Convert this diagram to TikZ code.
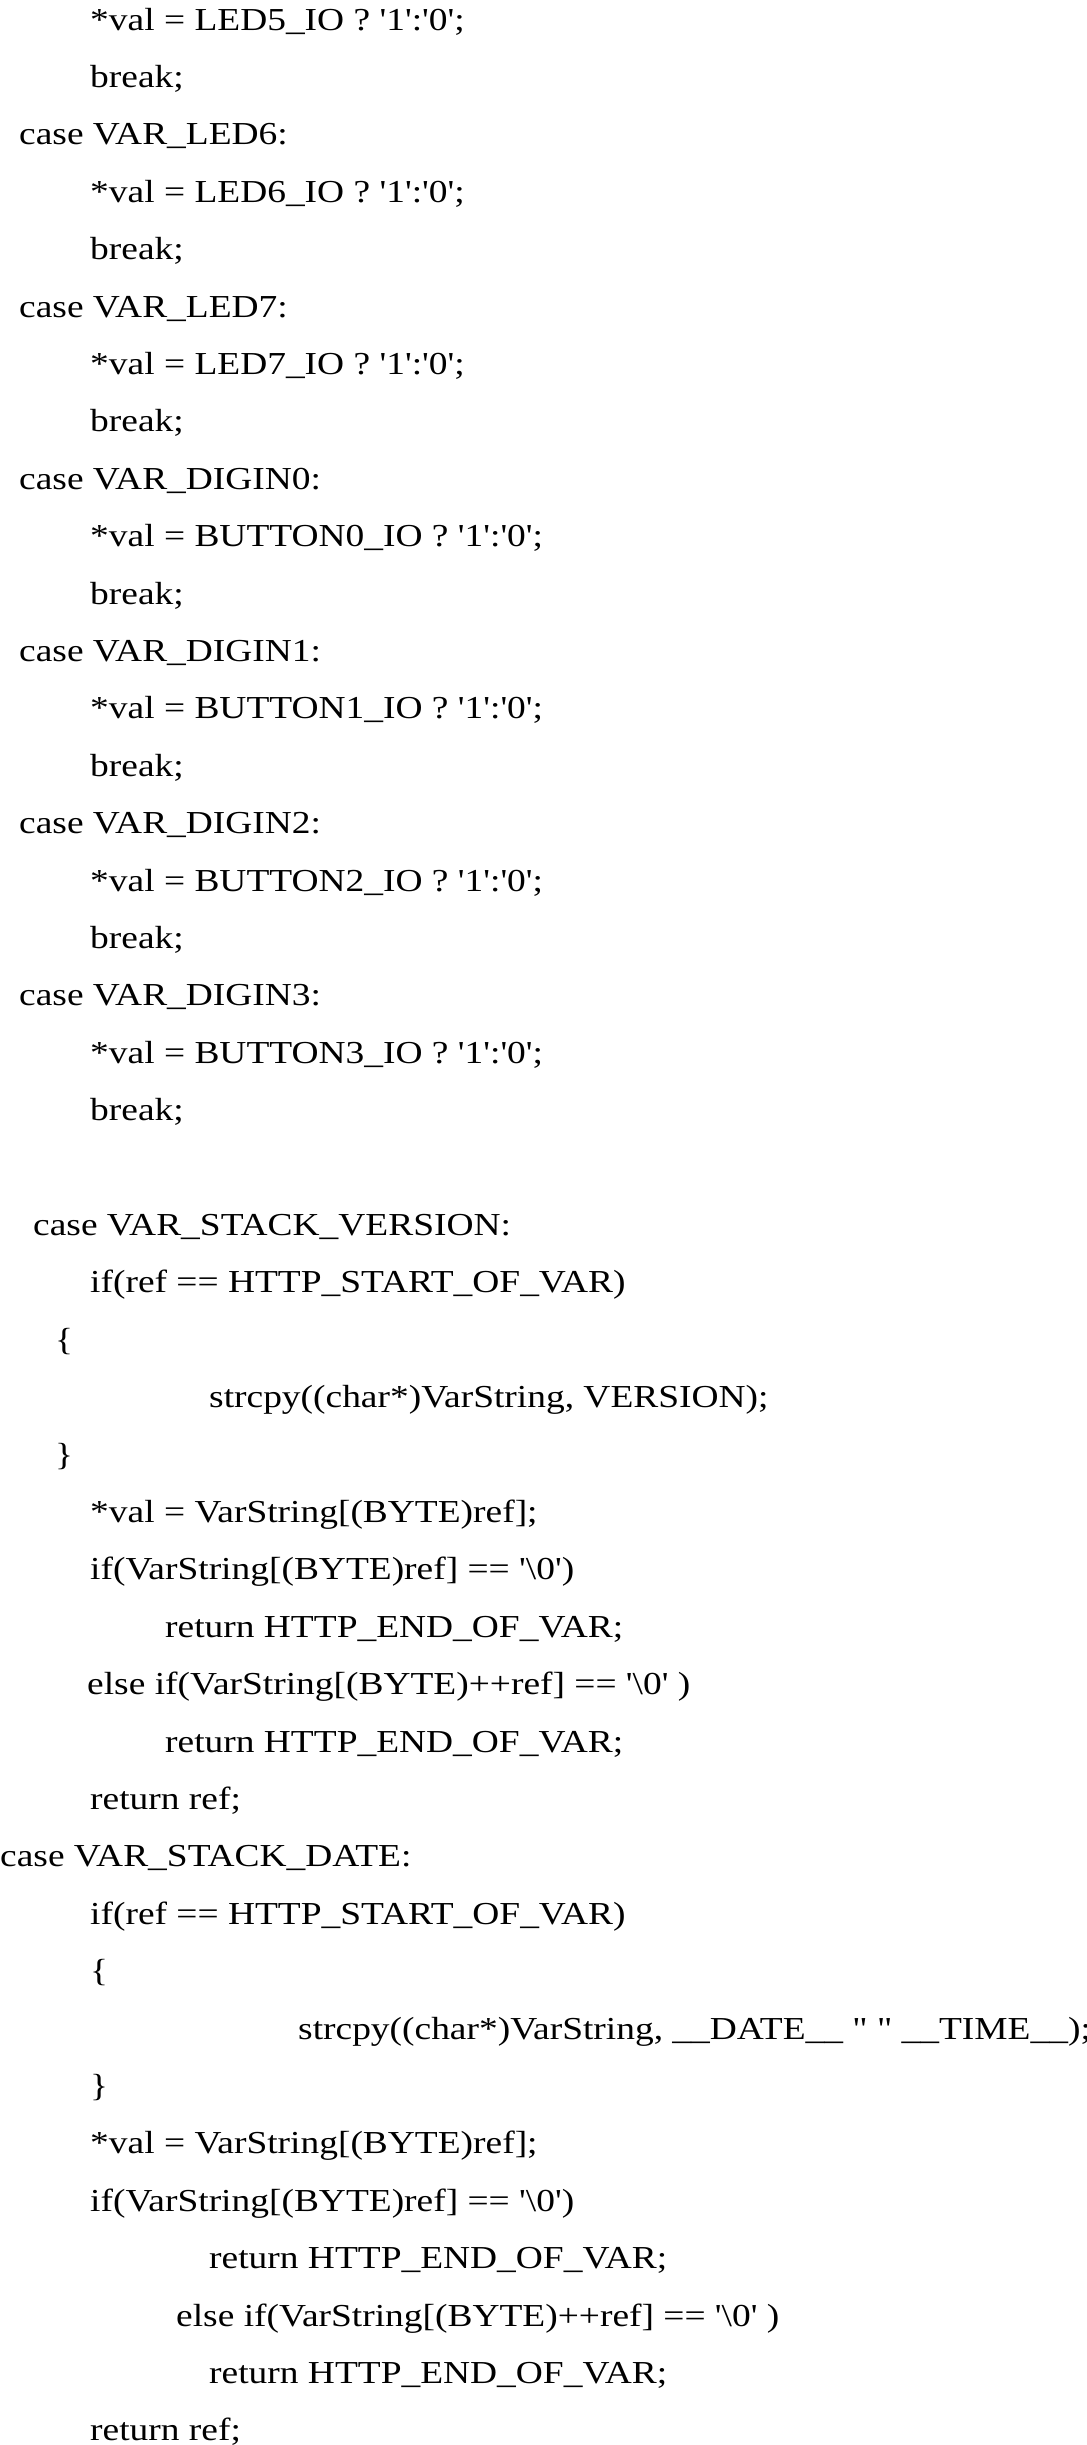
\documentclass[tikz,border=0pt]{standalone}
\usepackage{fontspec}
\setmainfont{Liberation Serif}[Ligatures=TeXOff,FakeStretch=1.17]
\newcommand{\us}{\_}
\newcommand{\bsl}{\textbackslash}
\tikzset{codeline/.style={anchor=base west, inner sep=0pt, font=\fontsize{32}{36}\selectfont}}
\begin{document}
\begin{tikzpicture}[x=1pt,y=1pt]
\useasboundingbox (0,0) rectangle (1087,-2445);
% slot k has its base at -(30+(k-1)*57.4)
\def\sl#1{-30-(#1-1)*57.4}

\node[codeline] (l1) at (90,{\sl{1}}) {*val = LED5\us IO ? '1':'0';};
\node[codeline] (l2) at (90,{\sl{2}}) {break;};
\node[codeline] (l3) at (19,{\sl{3}}) {case VAR\us LED6:};
\node[codeline] (l4) at (90,{\sl{4}}) {*val = LED6\us IO ? '1':'0';};
\node[codeline] (l5) at (90,{\sl{5}}) {break;};
\node[codeline] (l6) at (19,{\sl{6}}) {case VAR\us LED7:};
\node[codeline] (l7) at (90,{\sl{7}}) {*val = LED7\us IO ? '1':'0';};
\node[codeline] (l8) at (90,{\sl{8}}) {break;};
\node[codeline] (l9) at (19,{\sl{9}}) {case VAR\us DIGIN0:};
\node[codeline] (l10) at (90,{\sl{10}}) {*val = BUTTON0\us IO ? '1':'0';};
\node[codeline] (l11) at (90,{\sl{11}}) {break;};
\node[codeline] (l12) at (19,{\sl{12}}) {case VAR\us DIGIN1:};
\node[codeline] (l13) at (90,{\sl{13}}) {*val = BUTTON1\us IO ? '1':'0';};
\node[codeline] (l14) at (90,{\sl{14}}) {break;};
\node[codeline] (l15) at (19,{\sl{15}}) {case VAR\us DIGIN2:};
\node[codeline] (l16) at (90,{\sl{16}}) {*val = BUTTON2\us IO ? '1':'0';};
\node[codeline] (l17) at (90,{\sl{17}}) {break;};
\node[codeline] (l18) at (19,{\sl{18}}) {case VAR\us DIGIN3:};
\node[codeline] (l19) at (90,{\sl{19}}) {*val = BUTTON3\us IO ? '1':'0';};
\node[codeline] (l20) at (90,{\sl{20}}) {break;};

% version
\node[codeline] (v1) at (33,{\sl{22}}) {case VAR\us STACK\us VERSION:};
\node[codeline] (v2) at (90,{\sl{23}}) {if(ref == HTTP\us START\us OF\us VAR)};
\node[codeline] (v3) at (55,{\sl{24}}) {\{};
\node[codeline] (v4) at (209,{\sl{25}}) {strcpy((char*)VarString, VERSION);};
\node[codeline] (v5) at (55,{\sl{26}}) {\}};
\node[codeline] (v6) at (90,{\sl{27}}) {*val = VarString[(BYTE)ref];};
\node[codeline] (v7) at (90,{\sl{28}}) {if(VarString[(BYTE)ref] == '\bsl 0')};
\node[codeline] (v8) at (165,{\sl{29}}) {return HTTP\us END\us OF\us VAR;};
\node[codeline] (v9) at (87,{\sl{30}}) {else if(VarString[(BYTE)++ref] == '\bsl 0' )};
\node[codeline] (v10) at (165,{\sl{31}}) {return HTTP\us END\us OF\us VAR;};
\node[codeline] (v11) at (90,{\sl{32}}) {return ref;};

% date
\node[codeline] (d1) at (0,{\sl{33}}) {case VAR\us STACK\us DATE:};
\node[codeline] (d2) at (90,{\sl{34}}) {if(ref == HTTP\us START\us OF\us VAR)};
\node[codeline] (d3) at (90,{\sl{35}}) {\{};
\node[codeline] (d4) at (298,{\sl{36}}) {strcpy((char*)VarString, \us\us DATE\us\us{} " " \us\us TIME\us\us);};
\node[codeline] (d5) at (90,{\sl{37}}) {\}};
\node[codeline] (d6) at (90,{\sl{38}}) {*val = VarString[(BYTE)ref];};
\node[codeline] (d7) at (90,{\sl{39}}) {if(VarString[(BYTE)ref] == '\bsl 0')};
\node[codeline] (d8) at (209,{\sl{40}}) {return HTTP\us END\us OF\us VAR;};
\node[codeline] (d9) at (176,{\sl{41}}) {else if(VarString[(BYTE)++ref] == '\bsl 0' )};
\node[codeline] (d10) at (209,{\sl{42}}) {return HTTP\us END\us OF\us VAR;};
\node[codeline] (d11) at (90,{\sl{43}}) {return ref;};
\end{tikzpicture}
\end{document}
